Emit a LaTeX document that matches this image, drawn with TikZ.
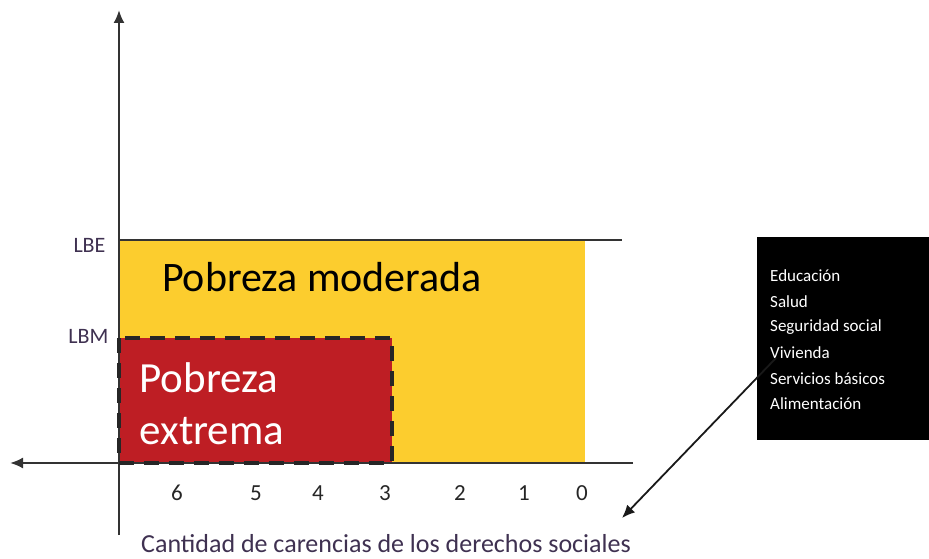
\documentclass[tikz,border=0pt]{standalone}
\usepackage{fontspec}
\setmainfont{Carlito}
\usetikzlibrary{arrows.meta}
\definecolor{moderadacol}{HTML}{FCCD2E}
\definecolor{extremacol}{HTML}{BE1E24}
\definecolor{ejecol}{HTML}{333333}
\definecolor{letracol}{HTML}{3F3151}

\begin{document}
\begin{tikzpicture}[x=1pt,y=-1pt,>={Latex[length=13pt,width=11pt]},line join=bevel,
  eje/.style={draw=ejecol,line width=2pt},
  limite/.style={font=\fontsize{22}{22}\selectfont,text=letracol,anchor=east},
  cuenta/.style={font=\fontsize{23}{23}\selectfont,text=black!85},
  carencia/.style={font=\fontsize{17}{17}\selectfont,text=white,anchor=west,inner sep=0pt}]
		%%
		\useasboundingbox (0,0) rectangle (929,559);
		\fill [moderadacol] (119,240) rectangle (585,463);
		\fill [extremacol] (119,338) rectangle (392,463);
		\coordinate (origen) at (119,463);
		\coordinate (arriba) at (119,10);
		\coordinate (abajo) at (119,535);
		\coordinate (izq) at (10,463);
		\coordinate (der) at (633,463);
		\coordinate (lbe0) at (119,240);
		\coordinate (lbe1) at (622,240);
		\draw [eje] (lbe0) -- (lbe1);
		\draw [eje,->] (abajo) -- (arriba);
		\draw [eje,->] (der) -- (izq);
		\draw [line width=4pt,black!85,dash pattern=on 15pt off 10pt] (119,338) rectangle (392,463);
		\node (lbe) at (109,245) [limite] {LBE};
		\node (lbm) at (112,336) [limite] {LBM};
		\node (moderada) at (322,277) [font=\fontsize{42}{42}\selectfont] {Pobreza moderada};
		\node (extrema) at (136,404) [font=\fontsize{43}{52}\selectfont,text=white,anchor=west,align=left] {Pobreza\\extrema};
		\node (t6) at (177,493) [cuenta] {6};
		\node (t5) at (256,493) [cuenta] {5};
		\node (t4) at (318,493) [cuenta] {4};
		\node (t3) at (385,493) [cuenta] {3};
		\node (t2) at (460,493) [cuenta] {2};
		\node (t1) at (524,493) [cuenta] {1};
		\node (t0) at (582,493) [cuenta] {0};
		\node (titulo) at (386,552) [font=\fontsize{26}{26}\selectfont,text=letracol,anchor=base,inner sep=0pt] {Cantidad de carencias de los derechos sociales};
		\node (lista) at (757,237) [fill=black,anchor=north west,minimum width=172,minimum height=203,inner sep=0pt] {};
		\foreach \t [count=\i] in {Educación,Salud,Seguridad social,Vivienda,Servicios básicos,Alimentación}
		  \node (c\i) at (770,{250.4+25.6*\i}) [carencia] {\t};
		\coordinate (flecha) at (776,358);
		\coordinate (punta) at (622,518);
		\draw [->,line width=1.8pt,black!90] (flecha) -- (punta);
		%
	\end{tikzpicture}
\end{document}
